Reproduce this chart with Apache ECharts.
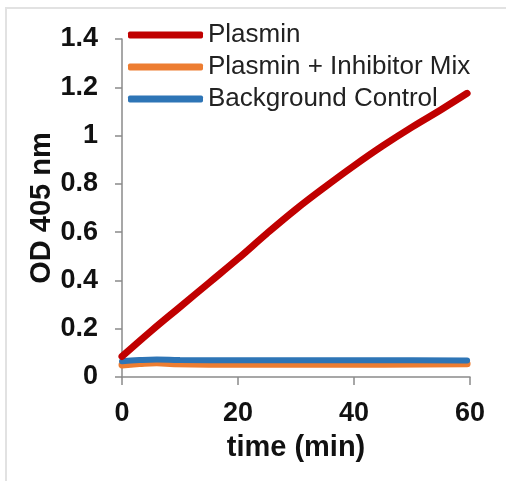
<!DOCTYPE html>
<html>
<head>
<meta charset="utf-8">
<script src="https://cdn.jsdelivr.net/npm/echarts@6/dist/echarts.min.js"></script>
<style>
html,body{margin:0;padding:0;background:#fff;}
#c{width:506px;height:481px;}
#frame{position:absolute;left:5px;top:7px;width:510px;height:480px;border-top:2px solid #e2e2e2;border-left:2px solid #e2e2e2;pointer-events:none;}
</style>
</head>
<body>
<div id="c"></div>
<div id="frame"></div>
<script>
const seriesNames = ["Plasmin", "Plasmin + Inhibitor Mix", "Background Control"];
const plasminT = [0, 5, 10, 15, 20, 25, 30, 35, 40, 45, 50, 55, 59.5];
const plasminV = [0.085, 0.19, 0.29, 0.39, 0.49, 0.595, 0.695, 0.787, 0.875, 0.958, 1.035, 1.107, 1.175];
const inhibT = [0, 3, 6, 9, 15, 30, 45, 59.5];
const inhibV = [0.05, 0.056, 0.059, 0.055, 0.053, 0.053, 0.053, 0.055];
const bgT = [0, 3, 6, 10, 20, 30, 40, 50, 59.5];
const bgV = [0.065, 0.07, 0.072, 0.07, 0.069, 0.069, 0.069, 0.069, 0.068];
const xTicks = [0, 20, 40, 60];
const yTicks = [0, 0.2, 0.4, 0.6, 0.8, 1, 1.2, 1.4];

const pairs = (t, v) => t.map((x, i) => [x, v[i]]);
const colors = ["#C00000", "#ED7D31", "#2E75B6"];

const chart = echarts.init(document.getElementById('c'), null, {renderer: 'canvas'});
const axisGrey = '#8a8a8a';
const ff = 'Liberation Sans, Arial';
chart.setOption({
  backgroundColor: '#fff',
  animation: false,
  grid: {left: 122, right: 36, top: 39, bottom: 104},
  legend: {
    data: seriesNames,
    orient: 'vertical',
    left: 128, top: 20,
    padding: 0,
    itemWidth: 75, itemHeight: 7, itemGap: 2,
    icon: 'roundRect',
    textStyle: {fontFamily: ff, fontSize: 26, color: '#222', lineHeight: 30, padding: [0,0,0,0]}
  },
  xAxis: {
    type: 'value', min: xTicks[0], max: xTicks[xTicks.length-1], interval: 20,
    name: 'time (min)', nameLocation: 'middle', nameGap: 56, nameMoveOverlap: false,
    nameTextStyle: {fontFamily: ff, fontWeight: 'bold', fontSize: 29, color: '#111'},
    axisLine: {lineStyle: {color: axisGrey, width: 1.5}},
    axisTick: {show: true, inside: false, length: 8, lineStyle: {color: axisGrey, width: 1.5}},
    axisLabel: {margin: 23, fontFamily: ff, fontWeight: 'bold', fontSize: 27, color: '#111'},
    splitLine: {show: false}
  },
  yAxis: {
    type: 'value', min: yTicks[0], max: yTicks[yTicks.length-1], interval: 0.2,
    name: 'OD 405 nm', nameLocation: 'middle', nameGap: 66, nameRotate: 90, nameMoveOverlap: false,
    nameTextStyle: {fontFamily: ff, fontWeight: 'bold', fontSize: 29, color: '#111'},
    axisLine: {show: true, lineStyle: {color: axisGrey, width: 1.5}},
    axisTick: {show: true, inside: false, length: 7, lineStyle: {color: axisGrey, width: 1.5}},
    axisLabel: {margin: 24, fontFamily: ff, fontWeight: 'bold', fontSize: 27, color: '#111'},
    splitLine: {show: false}
  },
  series: [
    {name: seriesNames[0], type: 'line', data: pairs(plasminT, plasminV), smooth: 0.4, showSymbol: false, z: 4,
     itemStyle: {color: colors[0]}, lineStyle: {color: colors[0], width: 7, cap: 'round'}},
    {name: seriesNames[1], type: 'line', data: pairs(inhibT, inhibV), smooth: true, showSymbol: false, z: 2,
     itemStyle: {color: colors[1]}, lineStyle: {color: colors[1], width: 7, cap: 'round'}},
    {name: seriesNames[2], type: 'line', data: pairs(bgT, bgV), smooth: true, showSymbol: false, z: 3,
     itemStyle: {color: colors[2]}, lineStyle: {color: colors[2], width: 6, cap: 'round'}}
  ]
});
</script>
</body>
</html>
